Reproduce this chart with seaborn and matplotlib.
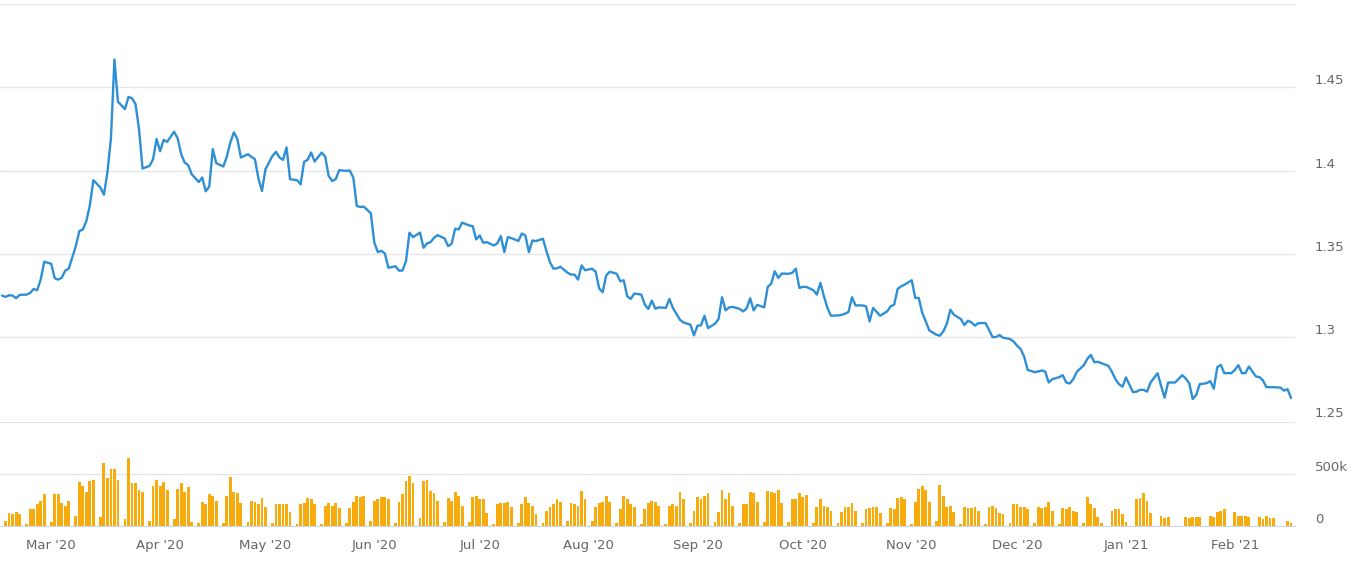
import matplotlib
matplotlib.use('Agg')
import matplotlib.pyplot as plt
import matplotlib.dates as mdates
import numpy as np
import pandas as pd
import seaborn as sns

# trading days run Sunday..Friday (no Saturday quotes)
start_day = '2020-02-16'
end_day = '2021-02-17'

# daily close, one value per trading day
price = [
    1.3249, 1.3241, 1.3251, 1.3249, 1.3233, 1.3253, 1.3255, 1.3265, 1.3289, 1.3281,
    1.3345, 1.3452, 1.3440, 1.3353, 1.3345, 1.3357, 1.3399, 1.3411, 1.3546, 1.3636,
    1.3646, 1.3696, 1.3791, 1.3942, 1.3898, 1.3855, 1.3988, 1.4193, 1.4666, 1.4413,
    1.4369, 1.4442, 1.4434, 1.4399, 1.4249, 1.4012, 1.4028, 1.4068, 1.4189, 1.4116,
    1.4184, 1.4172, 1.4233, 1.4193, 1.4098, 1.4048, 1.4032, 1.3978, 1.3931, 1.3958,
    1.3875, 1.3904, 1.4128, 1.4044, 1.4024, 1.4084, 1.4169, 1.4229, 1.4189, 1.4078,
    1.4098, 1.4082, 1.4068,
    1.3952, 1.3877, 1.4008, 1.4088, 1.4112, 1.4078, 1.4064, 1.4139, 1.3948, 1.3942,
    1.3917, 1.4052, 1.4064, 1.4108, 1.4054, 1.4108, 1.4084, 1.3967, 1.3937, 1.3948,
    1.4002, 1.3998, 1.4000, 1.3958, 1.3787, 1.3781, 1.3783, 1.3743, 1.3566,
    1.3510, 1.3518, 1.3502, 1.3416, 1.3425, 1.3399, 1.3399, 1.3455, 1.3627, 1.3600,
    1.3627, 1.3536, 1.3562, 1.3570, 1.3596, 1.3612, 1.3592, 1.3546, 1.3560, 1.3651,
    1.3646, 1.3687, 1.3670, 1.3666, 1.3586, 1.3610, 1.3566, 1.3570, 1.3550, 1.3562,
    1.3606, 1.3510, 1.3600, 1.3594,
    1.3577, 1.3622, 1.3610, 1.3510, 1.3580, 1.3576, 1.3590, 1.3516, 1.3449, 1.3410,
    1.3413, 1.3422, 1.3386, 1.3375, 1.3375, 1.3345, 1.3430, 1.3401, 1.3410, 1.3393,
    1.3293, 1.3269, 1.3369, 1.3392, 1.3380, 1.3335, 1.3341, 1.3245, 1.3229, 1.3261,
    1.3255, 1.3195, 1.3169, 1.3219, 1.3170, 1.3178, 1.3175, 1.3229, 1.3175, 1.3140,
    1.3104, 1.3088, 1.3074, 1.3010, 1.3068, 1.3070, 1.3128, 1.3054, 1.3080, 1.3108,
    1.3239, 1.3160, 1.3178, 1.3181, 1.3169, 1.3154, 1.3172, 1.3233, 1.3160, 1.3193,
    1.3178, 1.3301, 1.3321, 1.3395,
    1.3355, 1.3381, 1.3380, 1.3386, 1.3411, 1.3295, 1.3301, 1.3301, 1.3281, 1.3255,
    1.3325, 1.3245, 1.3175, 1.3128, 1.3130, 1.3133, 1.3140, 1.3151, 1.3239, 1.3190,
    1.3190, 1.3184, 1.3094, 1.3175, 1.3151, 1.3128, 1.3154, 1.3184, 1.3195, 1.3289,
    1.3305, 1.3315, 1.3341, 1.3235, 1.3235, 1.3145, 1.3094, 1.3040, 1.3014, 1.3008,
    1.3034, 1.3080, 1.3164, 1.3134, 1.3108, 1.3072, 1.3098, 1.3088, 1.3068, 1.3084,
    1.3084, 1.3044, 1.3000, 1.3000, 1.3012, 1.2996, 1.2988, 1.2973, 1.2948, 1.2928,
    1.2883, 1.2803,
    1.2789, 1.2793, 1.2799, 1.2793, 1.2727, 1.2747, 1.2759, 1.2771, 1.2727, 1.2721,
    1.2747, 1.2791, 1.2831, 1.2869, 1.2893, 1.2849, 1.2851, 1.2843, 1.2827, 1.2791,
    1.2747, 1.2717, 1.2702, 1.2757, 1.2669, 1.2672, 1.2683, 1.2683, 1.2672, 1.2727,
    1.2783, 1.2707, 1.2636, 1.2727, 1.2727, 1.2727, 1.2771, 1.2751, 1.2723, 1.2628,
    1.2652, 1.2717, 1.2723, 1.2735, 1.2690, 1.2819, 1.2833, 1.2783, 1.2783, 1.2803,
    1.2831, 1.2783, 1.2783, 1.2823, 1.2763, 1.2759, 1.2739, 1.2699, 1.2699, 1.2699,
    1.2696, 1.2678, 1.2687, 1.2634,
]

# volume in thousands, one row per week: Sun, Mon, Tue, Wed, Thu, Fri
volume_k = [
    0, 51, 124, 111, 134, 111,        # Feb 16
    19, 159, 159, 207, 242, 306,      # Feb 23
    38, 306, 306, 220, 194, 242,      # Mar 1
    99, 420, 385, 325, 433, 446,
    86, 602, 459, 551, 551, 446,
    64, 650, 411, 411, 350, 325,
    51, 385, 446, 385, 420, 350,      # Mar 29
    64, 360, 411, 325, 373, 38,
    25, 229, 207, 306, 290, 242,
    25, 290, 468, 325, 315, 220,
    38, 242, 229, 207, 267, 182,      # Apr 26
    25, 207, 207, 207, 207, 134,
    16, 207, 220, 267, 255, 207,
    16, 194, 220, 194, 220, 172,
    25, 172, 229, 290, 277, 290,
    51, 242, 255, 277, 277, 255,      # May 31
    25, 229, 306, 433, 481, 411,
    73, 433, 446, 338, 315, 242,
    38, 267, 242, 325, 293, 197,
    38, 277, 293, 255, 255, 124,      # Jun 28
    16, 207, 220, 220, 229, 182,
    25, 207, 277, 220, 194, 111,
    25, 146, 182, 207, 255, 229,
    51, 220, 207, 194, 338, 255,
    51, 182, 220, 229, 290, 229,      # Aug 2
    25, 159, 290, 255, 207, 182,
    16, 159, 220, 242, 229, 194,
    16, 194, 207, 194, 325, 255,
    25, 146, 277, 255, 290, 315,      # Aug 30
    38, 134, 350, 255, 315, 194,
    25, 207, 207, 325, 315, 229,
    38, 338, 328, 315, 350, 220,
    38, 255, 255, 315, 277, 302,      # Sep 27
    25, 182, 255, 194, 182, 146,
    25, 134, 182, 182, 220, 146,
    25, 159, 172, 182, 182, 124,
    25, 172, 159, 267, 277, 255,
    16, 229, 360, 385, 350, 229,      # Nov 1
    51, 398, 290, 182, 194, 134,
    16, 182, 172, 172, 182, 146,
    16, 182, 194, 172, 124, 111,
    25, 207, 207, 182, 182, 159,      # Nov 29
    25, 182, 172, 182, 229, 146,
    16, 172, 159, 182, 146, 134,
    25, 277, 207, 172, 86, 25,
    0, 146, 159, 159, 111, 38,        # Dec 27
    0, 255, 267, 315, 242, 124,
    0, 96, 73, 86, 0, 0,
    0, 86, 73, 86, 86, 86,
    0, 99, 86, 134, 146, 159,
    0, 134, 99, 99, 99, 86,           # Jan 31
    0, 86, 64, 99, 73, 73,
    0, 0, 51, 25,                     # Feb 14
]

price_ticks = [1.25, 1.3, 1.35, 1.4, 1.45, 1.5]
volume_ticks = [0, 500000, 1000000]

days = pd.bdate_range(start_day, end_day, freq='C',
                      weekmask='Sun Mon Tue Wed Thu Fri')
df = pd.DataFrame({'date': days, 'price': price,
                   'volume': np.array(volume_k) * 1000})

sns.set_style('white')
plt.rcParams['font.family'] = ['DejaVu Sans']

W, H = 1360, 569
fig = plt.figure(figsize=(W / 100, H / 100), dpi=100)
ax_p = fig.add_axes([0, (H - 420.3) / H, 1295 / W, 416.3 / H])
ax_v = fig.add_axes([0, (H - 526) / H, 1295 / W, 104 / H], sharex=ax_p)

grid_c = '#e6e6e6'
text_c = '#666666'
axis_c = '#ccd6eb'

# price line
sns.lineplot(data=df, x='date', y='price', ax=ax_p, color='#2e8fd5',
             linewidth=1.7)
ax_p.set_ylim(1.25, 1.5)
ax_p.set_yticks(price_ticks)
ax_p.set_yticklabels(['%g' % t if t < 1.5 else '' for t in price_ticks])

# volume bars
ax_v.bar(df['date'], df['volume'], width=0.8, color='#f7ab0c', linewidth=0)
ax_v.set_ylim(0, 1000000)
ax_v.set_yticks(volume_ticks)
ax_v.set_yticklabels(['0', '500k', ''])

xmin = pd.Timestamp('2020-02-15 10:00')
xmax = pd.Timestamp('2021-02-18 03:00')
ax_p.set_xlim(xmin, xmax)

for ax in (ax_p, ax_v):
    ax.set_xlabel('')
    ax.set_ylabel('')
    ax.grid(axis='y', color=grid_c, linewidth=1)
    ax.grid(axis='x', visible=False)
    ax.set_axisbelow(True)
    for s in ['top', 'left', 'right', 'bottom']:
        ax.spines[s].set_visible(False)
    ax.yaxis.tick_right()
    ax.tick_params(axis='y', length=0, pad=14.4, labelsize=9.5,
                   labelcolor=text_c)
    for lab in ax.get_yticklabels():
        lab.set_verticalalignment('bottom')
    ax.set_facecolor('none')

ax_p.tick_params(axis='x', bottom=False, labelbottom=False)

ax_v.spines['bottom'].set_visible(True)
ax_v.spines['bottom'].set_color(axis_c)
ax_v.xaxis.set_major_locator(mdates.MonthLocator())
ax_v.xaxis.set_major_formatter(mdates.DateFormatter("%b '%y"))
ax_v.tick_params(axis='x', length=8, width=1, color=axis_c, pad=1.5,
                 labelsize=9.5, labelcolor=text_c)

fig.savefig('out.png', dpi=100)
plt.close()
